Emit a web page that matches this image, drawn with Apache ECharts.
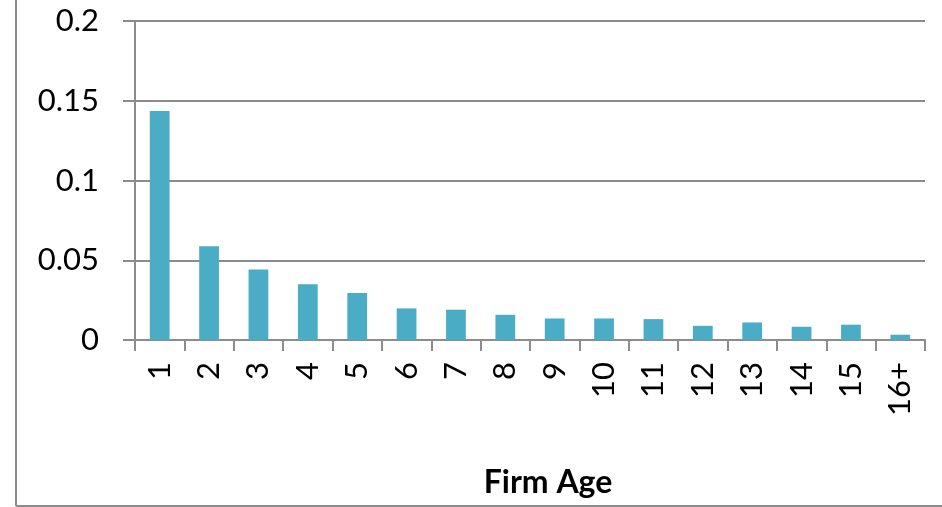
<!DOCTYPE html>
<html>
<head>
<meta charset="utf-8">
<script src="https://cdn.jsdelivr.net/npm/echarts@6/dist/echarts.min.js"></script>
<style>
html, body { margin: 0; padding: 0; background: #fff; }
#chart { width: 942px; height: 507px; }
</style>
</head>
<body>
<div id="chart"></div>
<script>
var ages = ['1', '2', '3', '4', '5', '6', '7', '8', '9', '10', '11', '12', '13', '14', '15', '16+'];
var shares = [0.1435, 0.0588, 0.0442, 0.0349, 0.0294, 0.0198, 0.019, 0.0158, 0.0135, 0.0135, 0.0131, 0.0089, 0.011, 0.0083, 0.0096, 0.0033];
var yTicks = [0, 0.05, 0.1, 0.15, 0.2];

var lineGray = '#8c8c8c';

var option = {
    animation: false,
    backgroundColor: '#fff',
    grid: {
        left: 135,
        right: 17,
        top: 21,
        bottom: 167
    },
    xAxis: {
        type: 'category',
        data: ages,
        name: 'Firm Age',
        nameLocation: 'middle',
        nameGap: 127,
        nameTextStyle: {
            fontFamily: 'Lato',
            fontWeight: 'bold',
            fontSize: 32,
            color: '#000',
            padding: [0, 0, 0, 36]
        },
        axisLine: { lineStyle: { color: lineGray, width: 2 } },
        axisTick: { show: true, length: 11, lineStyle: { color: lineGray, width: 2 } },
        axisLabel: {
            rotate: 90,
            margin: 22,
            interval: 0,
            fontFamily: 'Lato',
            fontSize: 31,
            color: '#000'
        }
    },
    yAxis: {
        type: 'value',
        min: yTicks[0],
        max: yTicks[yTicks.length - 1],
        interval: 0.05,
        axisLine: { show: true, lineStyle: { color: lineGray, width: 2 } },
        axisTick: { show: true, length: 12, lineStyle: { color: lineGray, width: 2 } },
        splitLine: { show: true, lineStyle: { color: lineGray, width: 2 } },
        axisLabel: {
            margin: 36,
            fontFamily: 'Lato',
            fontSize: 31,
            color: '#000',
            formatter: function (v) {
                return String(Math.round(v * 100) / 100);
            }
        }
    },
    series: [
        {
            type: 'bar',
            data: shares,
            barWidth: '40%',
            itemStyle: { color: '#4BACC6' }
        }
    ],
    graphic: [
        // outer chart frame (left and bottom edges visible in the picture)
        {
            type: 'line',
            shape: { x1: 16, y1: 0, x2: 16, y2: 506 },
            style: { stroke: '#8c8c8c', lineWidth: 2 }
        },
        {
            type: 'line',
            shape: { x1: 16, y1: 506, x2: 942, y2: 506 },
            style: { stroke: '#8c8c8c', lineWidth: 2 }
        }
    ]
};

var chart = echarts.init(document.getElementById('chart'));
chart.setOption(option);
</script>
</body>
</html>
